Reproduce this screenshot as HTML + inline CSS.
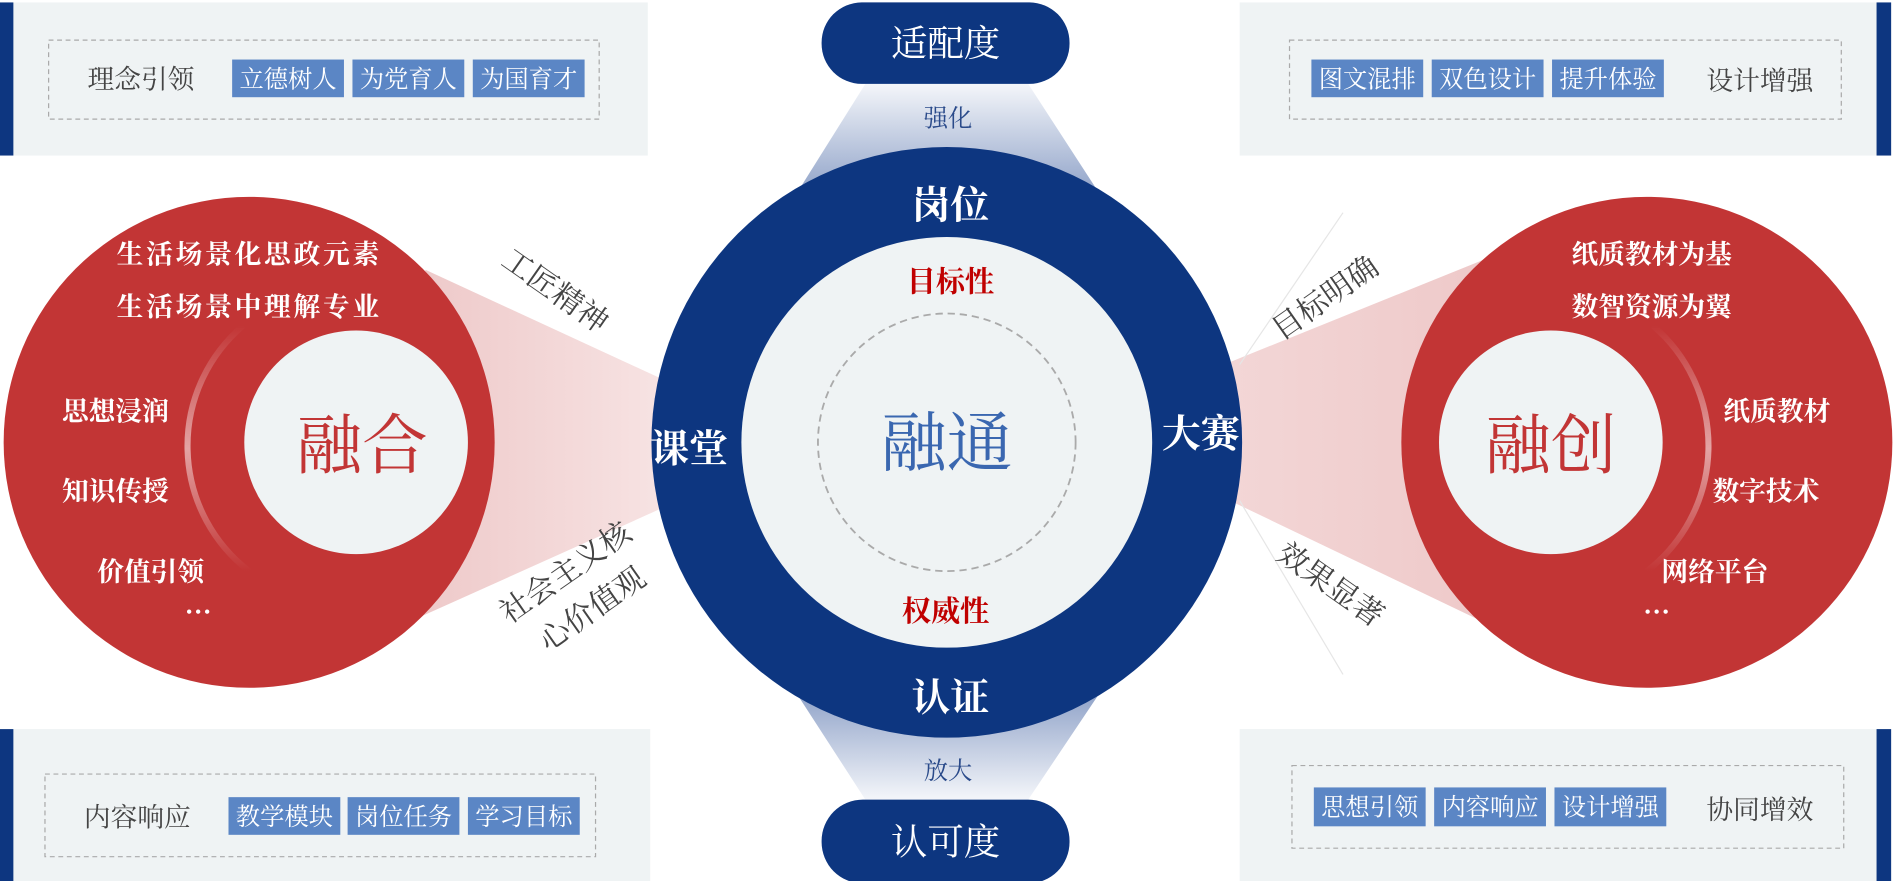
<!DOCTYPE html>
<html><head><meta charset="utf-8"><style>
html,body{margin:0;padding:0;background:#fff;width:1896px;height:881px;overflow:hidden}
svg{display:block}
text{font-family:"Liberation Serif","Noto Serif CJK SC",serif}
</style></head><body>
<svg width="1896" height="881" viewBox="0 0 1560 725" preserveAspectRatio="none" xmlns="http://www.w3.org/2000/svg">
<defs>
<linearGradient id="tb" x1="0" y1="0" x2="0" y2="1"><stop offset="0" stop-color="#f4f6fa"/><stop offset="1" stop-color="#8fa2c8"/></linearGradient>
<linearGradient id="bb" x1="0" y1="1" x2="0" y2="0"><stop offset="0" stop-color="#f4f6fa"/><stop offset="1" stop-color="#8fa2c8"/></linearGradient>
<linearGradient id="lb" x1="0" y1="0" x2="1" y2="0"><stop offset="0" stop-color="#eec9c9"/><stop offset="1" stop-color="#f7e3e3"/></linearGradient>
<linearGradient id="rb" x1="1" y1="0" x2="0" y2="0"><stop offset="0" stop-color="#eec9c9"/><stop offset="1" stop-color="#f3d6d6"/></linearGradient>
<linearGradient id="arc" x1="0" y1="0" x2="0" y2="1"><stop offset="0" stop-color="#fff" stop-opacity="0"/><stop offset="0.5" stop-color="#fff" stop-opacity="0.55"/><stop offset="1" stop-color="#fff" stop-opacity="0"/></linearGradient>
</defs>

<rect x="0" y="2" width="533" height="126" fill="#eff3f4"/><rect x="0" y="2" width="11" height="126" fill="#0d3680"/>
<rect x="40" y="33" width="453" height="65" fill="none" stroke="#aaa" stroke-dasharray="4 3"/>
<text x="116" y="73" font-size="22" fill="#444" text-anchor="middle">理念引领</text>
<g font-size="20" fill="#fff" text-anchor="middle">
<rect x="191" y="49" width="92" height="31" fill="#5b86c5"/><text x="237" y="72">立德树人</text>
<rect x="290" y="49" width="92" height="31" fill="#5b86c5"/><text x="336" y="72">为党育人</text>
<rect x="389" y="49" width="92" height="31" fill="#5b86c5"/><text x="435" y="72">为国育才</text>
</g>

<rect x="1020" y="2" width="536" height="126" fill="#eff3f4"/><rect x="1544" y="2" width="12" height="126" fill="#0d3680"/>
<rect x="1061" y="33" width="454" height="65" fill="none" stroke="#aaa" stroke-dasharray="4 3"/>
<g font-size="20" fill="#fff" text-anchor="middle">
<rect x="1079" y="49" width="92" height="31" fill="#5b86c5"/><text x="1125" y="72">图文混排</text>
<rect x="1178" y="49" width="92" height="31" fill="#5b86c5"/><text x="1224" y="72">双色设计</text>
<rect x="1277" y="49" width="92" height="31" fill="#5b86c5"/><text x="1323" y="72">提升体验</text>
</g>
<text x="1448" y="74" font-size="22" fill="#444" text-anchor="middle">设计增强</text>

<rect x="0" y="600" width="535" height="127" fill="#eff3f4"/><rect x="0" y="600" width="11" height="127" fill="#0d3680"/>
<rect x="37" y="637" width="453" height="68" fill="none" stroke="#aaa" stroke-dasharray="4 3"/>
<text x="113" y="680" font-size="22" fill="#444" text-anchor="middle">内容响应</text>
<g font-size="20" fill="#fff" text-anchor="middle">
<rect x="188" y="656" width="92" height="31" fill="#5b86c5"/><text x="234" y="679">教学模块</text>
<rect x="286" y="656" width="92" height="31" fill="#5b86c5"/><text x="332" y="679">岗位任务</text>
<rect x="385" y="656" width="92" height="31" fill="#5b86c5"/><text x="431" y="679">学习目标</text>
</g>

<rect x="1020" y="600" width="536" height="127" fill="#eff3f4"/><rect x="1544" y="600" width="12" height="127" fill="#0d3680"/>
<rect x="1063" y="630" width="454" height="68" fill="none" stroke="#aaa" stroke-dasharray="4 3"/>
<g font-size="20" fill="#fff" text-anchor="middle">
<rect x="1081" y="648" width="92" height="32" fill="#5b86c5"/><text x="1127" y="671">思想引领</text>
<rect x="1180" y="648" width="92" height="32" fill="#5b86c5"/><text x="1226" y="671">内容响应</text>
<rect x="1279" y="648" width="92" height="32" fill="#5b86c5"/><text x="1325" y="671">设计增强</text>
</g>
<text x="1448" y="674" font-size="22" fill="#444" text-anchor="middle">协同增效</text>

<polygon points="712,69 846,69 905,160 655,160" fill="url(#tb)"/>
<polygon points="655,570 905,570 846,658 712,658" fill="url(#bb)"/>
<text x="780" y="104" font-size="20" fill="#2a4a8a" text-anchor="middle">强化</text>
<text x="780" y="641" font-size="20" fill="#2a4a8a" text-anchor="middle">放大</text>
<rect x="676" y="2" width="204" height="67" rx="33" fill="#0d3680"/>
<text x="778" y="46" font-size="30" fill="#fff" text-anchor="middle">适配度</text>
<rect x="676" y="658" width="204" height="69" rx="34" fill="#0d3680"/>
<text x="778" y="703" font-size="30" fill="#fff" text-anchor="middle">认可度</text>

<polygon points="350,222 545,312 545,418 345,508" fill="url(#lb)"/>
<polygon points="1012,298 1225,212 1225,514 1012,412" fill="url(#rb)"/>
<line x1="1105" y1="175" x2="1020" y2="300" stroke="#e6e6e6" stroke-width="1"/>
<line x1="1105" y1="555" x2="1020" y2="412" stroke="#e6e6e6" stroke-width="1"/>

<circle cx="779" cy="364" r="243" fill="#0d3680"/>
<circle cx="779" cy="364" r="169" fill="#eff3f4"/>
<circle cx="779" cy="364" r="106" fill="none" stroke="#aaa" stroke-width="1.5" stroke-dasharray="6 4"/>
<g font-weight="bold" fill="#fff" text-anchor="middle" font-size="32">
<text x="782" y="180">岗位</text><text x="782" y="585">认证</text>
<text x="567" y="380">课堂</text><text x="988" y="368">大赛</text>
</g>
<text x="782" y="240" font-size="24" font-weight="bold" fill="#c00000" text-anchor="middle">目标性</text>
<text x="778" y="511" font-size="24" font-weight="bold" fill="#c00000" text-anchor="middle">权威性</text>
<text x="779" y="383" font-size="54" fill="#3a67b0" text-anchor="middle">融通</text>

<circle cx="205" cy="364" r="202" fill="#c23535"/>
<path d="M200,268 A130,130 0 0 0 205,470" fill="none" stroke="url(#arc)" stroke-width="5"/>
<circle cx="293" cy="364" r="92" fill="#eff3f4"/>
<text x="298" y="385" font-size="54" fill="#c23535" text-anchor="middle">融合</text>
<g font-size="22" font-weight="bold" fill="#fff">
<text x="96" y="217" textLength="216">生活场景化思政元素</text>
<text x="96" y="260" textLength="216">生活场景中理解专业</text>
<text x="51" y="346">思想浸润</text>
<text x="51" y="412">知识传授</text>
<text x="80" y="478">价值引领</text>
<text x="152" y="505">…</text>
</g>
<g font-size="25" fill="#444" text-anchor="middle">
<text transform="translate(452,246) rotate(35)">工匠精神</text>
<text transform="translate(470,478) rotate(-35)">社会主义核</text>
<text transform="translate(492,508) rotate(-35)">心价值观</text>
<text transform="translate(1095,252) rotate(-35)">目标明确</text>
<text transform="translate(1090,488) rotate(35)">效果显著</text>
</g>

<circle cx="1355" cy="364" r="202" fill="#c23535"/>
<path d="M1360,268 A130,130 0 0 1 1355,470" fill="none" stroke="url(#arc)" stroke-width="5"/>
<circle cx="1276" cy="364" r="92" fill="#eff3f4"/>
<text x="1276" y="385" font-size="54" fill="#c23535" text-anchor="middle">融创</text>
<g font-size="22" font-weight="bold" fill="#fff">
<text x="1293" y="217">纸质教材为基</text>
<text x="1293" y="260">数智资源为翼</text>
<text x="1418" y="346">纸质教材</text>
<text x="1409" y="412">数字技术</text>
<text x="1367" y="478">网络平台</text>
<text x="1352" y="505">…</text>
</g>
</svg>
</body></html>
